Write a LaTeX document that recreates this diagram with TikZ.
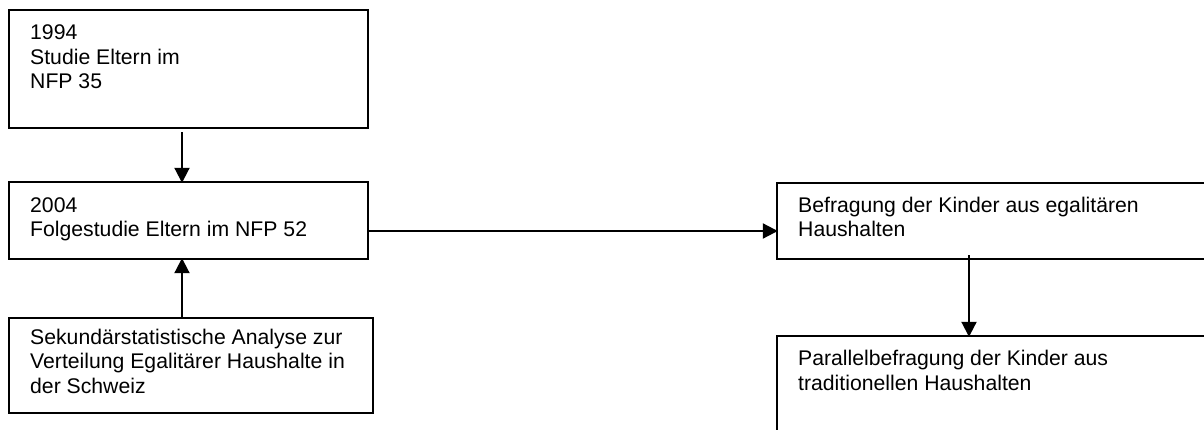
\documentclass[tikz,border=0pt]{standalone}
\usepackage{fontspec}
\setmainfont{Liberation Sans}
\usetikzlibrary{arrows.meta}
\tikzset{
  boxline/.style={draw=black, line width=2pt},
  lbl/.style={anchor=base west, inner sep=0pt, align=left, font=\fontsize{21.2}{24.5}\selectfont},
  conn/.style={line width=2pt, -{Triangle[length=15pt,width=15pt]}, shorten >=-1pt},
}
\begin{document}
\begin{tikzpicture}[x=1pt,y=-1pt]
\useasboundingbox (0,0) rectangle (1204,430);
\clip (0,0) rectangle (1204,430);
\fill[white] (0,0) rectangle (1204,430);
% boxes
\draw[boxline] (9,10) rectangle (368,128);
\draw[boxline] (9,182) rectangle (368,259);
\draw[boxline] (9,318) rectangle (373,413);
\draw[boxline] (777,183) rectangle (1215,259);
\draw[boxline] (777,336) rectangle (1215,445);
\node[minimum width=359pt, minimum height=118pt, inner sep=0pt] (b1) at (188.5,69) {};
\node[minimum width=359pt, minimum height=77pt, inner sep=0pt] (b2) at (188.5,220.5) {};
\node[minimum width=364pt, minimum height=95pt, inner sep=0pt] (b3) at (191,365.5) {};
\node[minimum width=438pt, minimum height=76pt, inner sep=0pt] (ba) at (996,221) {};
\node[minimum width=438pt, minimum height=109pt, inner sep=0pt] (bb) at (996,390.5) {};
% texts (anchored at baseline of last line)
\node[lbl] (t1) at (30,89) {1994\\Studie Eltern im\\NFP 35};
\node[lbl] (t2) at (30,236.7) {2004\\Folgestudie Eltern im NFP 52};
\node[lbl] (t3) at (30,393) {Sekundärstatistische Analyse zur\\Verteilung Egalitärer Haushalte in\\der Schweiz};
\node[lbl] (ta) at (798,237) {Befragung der Kinder aus egalitären\\Haushalten};
\node[lbl] (tb) at (798,390) {Parallelbefragung der Kinder aus\\traditionellen Haushalten};
% connectors
\coordinate (xl) at (182,0);
\coordinate (xr) at (969,0);
\coordinate (yh) at (0,231);
\draw[conn] ([yshift=-4pt]b1.south -| xl) -- (b2.north -| xl);
\draw[conn] (b3.north -| xl) -- (b2.south -| xl);
\draw[conn] (b2.east |- yh) -- (ba.west |- yh);
\draw[conn] ([yshift=4pt]ba.south -| xr) -- (bb.north -| xr);
\end{tikzpicture}
\end{document}
